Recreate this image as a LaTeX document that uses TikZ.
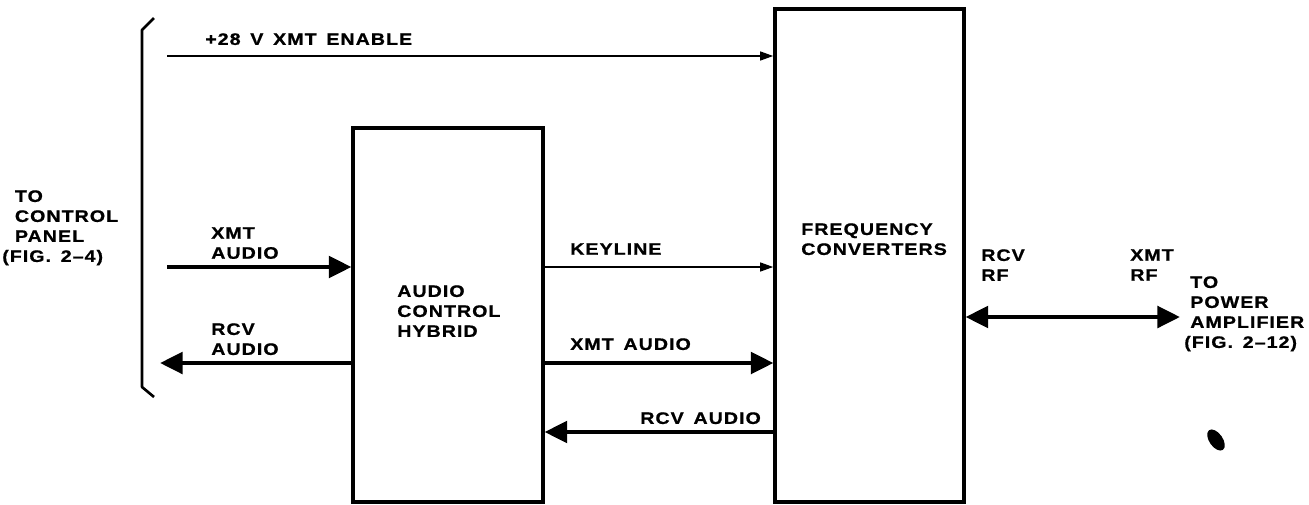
\documentclass[tikz,border=0pt]{standalone}
\usepackage{fontspec}
\newfontfamily\lblfont{Liberation Sans}[FakeStretch=1.18,LetterSpace=6,WordSpace=1.5,FakeBold=0.8]
\usetikzlibrary{arrows.meta,shapes.geometric}
\tikzset{
  lbl/.style={anchor=north west, inner sep=0pt, align=left,
    font={\lblfont\bfseries\fontsize{12.5}{15}\selectfont}},
  blockbox/.style={draw, line width=2.3pt, rectangle, inner sep=0pt},
  thinarrow/.style={line width=1.8pt, -{Triangle[length=10pt,width=6.5pt]}},
  fatarrow/.style={line width=3.4pt, -{Triangle[length=17pt,width=16pt]}},
  fatboth/.style={line width=3.4pt, {Triangle[length=17pt,width=16pt]}-{Triangle[length=17pt,width=16pt]}},
}
\begin{document}
\begin{tikzpicture}[x=0.75pt,y=-0.75pt]
\useasboundingbox (0,0) rectangle (1309,504);
% blocks
\node[blockbox, minimum width=142.5pt, minimum height=280.5pt] (audio) at (448,315) {};
\node[blockbox, minimum width=141.75pt, minimum height=369.75pt] (freq) at (869.5,255.5) {};
% bracket
\coordinate (brTop) at (154,18);
\coordinate (brBot) at (154,397);
\draw[line width=2pt, line join=round] (brTop) -- (142,30) -- (142,387) -- (brBot);
% free ends
\coordinate (en) at (167,56);
\coordinate (xa) at (167,267);
\coordinate (ra) at (160,363);
\coordinate (rf) at (1180,317);
% connectors
\draw[thinarrow] (en) -- (en -| freq.west);
\draw[fatarrow] (xa) -- (xa -| audio.west);
\draw[fatarrow] (audio.west |- ra) -- (ra);
\draw[thinarrow] (audio.east |- 0,267) -- (freq.west |- 0,267);
\draw[fatarrow] (audio.east |- 0,363) -- (freq.west |- 0,363);
\draw[fatarrow] (freq.west |- 0,432) -- (audio.east |- 0,432);
\draw[fatboth] (freq.east |- rf) -- (rf);
% labels
\node[lbl] (t28) at (205,33) {+28 V XMT ENABLE};
\node[lbl] (tcp) at (2,190) {\hspace*{9.5pt}TO\\\hspace*{9.5pt}CONTROL\\\hspace*{9.5pt}PANEL\\(FIG. 2–4)};
\node[lbl] (txa) at (211,227) {XMT\\AUDIO};
\node[lbl] (tra) at (211,323) {RCV\\AUDIO};
\node[lbl] (tach) at (397,285) {AUDIO\\CONTROL\\HYBRID};
\node[lbl] (tkl) at (570,243) {KEYLINE};
\node[lbl] (txa2) at (570,338) {XMT AUDIO};
\node[lbl] (tra2) at (640,412) {RCV AUDIO};
\node[lbl] (tfc) at (801,223) {FREQUENCY\\CONVERTERS};
\node[lbl] (trrf) at (981,249) {RCV\\RF};
\node[lbl] (txrf) at (1130,249) {XMT\\RF};
\node[lbl] (tpa) at (1184,276) {\hspace*{4.5pt}TO\\\hspace*{4.5pt}POWER\\\hspace*{4.5pt}AMPLIFIER\\(FIG. 2–12)};
% ink blot
\node[ellipse, fill, minimum width=18pt, minimum height=10pt, inner sep=0pt, rotate=-55] (blob) at (1216,440) {};
\end{tikzpicture}
\end{document}
